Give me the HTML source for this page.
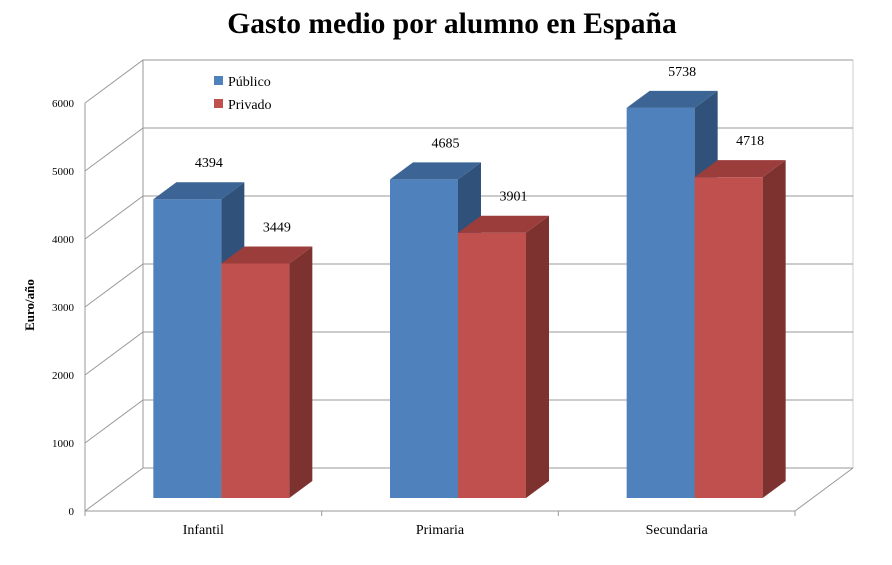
<!DOCTYPE html>
<html><head><meta charset="utf-8"><style>
body{margin:0;background:#fff}
svg text{font-family:"Liberation Serif",serif}
</style></head><body>
<svg id="chart" width="892" height="560" xmlns="http://www.w3.org/2000/svg">
<text x="452" y="33" text-anchor="middle" font-size="29.5" font-weight="bold">Gasto medio por alumno en España</text>
<text transform="translate(34,305) rotate(-90)" text-anchor="middle" font-size="13" font-weight="bold">Euro/año</text>
<g id="grid"></g><g id="bars"></g>
<g>
<rect x="214" y="76" width="9" height="9" fill="#4f81bd"/>
<text x="228" y="86" font-size="14">Público</text>
<rect x="214" y="99" width="9" height="9" fill="#c0504d"/>
<text x="228" y="109" font-size="14">Privado</text>
</g>
</svg>
<script>
const categories=["Infantil","Primaria","Secundaria"];
const publico=[4394,4685,5738];
const privado=[3449,3901,4718];
const yTicks=[0,1000,2000,3000,4000,5000,6000];
const NS="http://www.w3.org/2000/svg";
const svg=document.getElementById('chart'),grid=document.getElementById('grid'),bars=document.getElementById('bars');
const X0=85,X1=795,Y0=511,PX=0.068,DX=58,DY=-43;
const yF=v=>Y0-v*PX;
function el(t,a,p){const e=document.createElementNS(NS,t);for(const k in a)e.setAttribute(k,a[k]);p.appendChild(e);return e;}
el('line',{x1:X0,y1:yF(6000),x2:X0,y2:Y0+4,stroke:'#999'},grid);
el('line',{x1:X0+DX,y1:yF(6000)+DY,x2:X0+DX,y2:Y0+DY,stroke:'#999'},grid);
el('line',{x1:X1+DX,y1:yF(6000)+DY,x2:X1+DX,y2:Y0+DY,stroke:'#ccc'},grid);
el('line',{x1:X0,y1:Y0,x2:X1,y2:Y0,stroke:'#999'},grid);
el('line',{x1:X1,y1:Y0,x2:X1+DX,y2:Y0+DY,stroke:'#999'},grid);
yTicks.forEach(v=>{const y=yF(v);
 const l=el('polyline',{points:`${X0},${y} ${X0+DX},${y+DY} ${X1+DX},${y+DY}`,fill:'none',stroke:'#999'},grid);
 
 const t=el('text',{x:X0-11,y:y+4,'text-anchor':'end','font-size':'11'},grid);t.textContent=v;
 
});
const cw=(X1-X0)/categories.length;
for(let i=0;i<=categories.length;i++){el('line',{x1:X0+i*cw,y1:Y0,x2:X0+i*cw,y2:Y0+5,stroke:'#999'},grid);}
const BW=68,BDX=23,BDY=-17,BB=498;
function bar(x,v,c,side,top,name){
 const yt=BB-v*PX;const g=el('g',{},bars);
 
 el('rect',{x:x,y:yt,width:BW,height:BB-yt,fill:c},g);
 el('polygon',{points:`${x+BW},${yt} ${x+BW+BDX},${yt+BDY} ${x+BW+BDX},${BB+BDY} ${x+BW},${BB}`,fill:side},g);
 el('polygon',{points:`${x},${yt} ${x+BDX},${yt+BDY} ${x+BW+BDX},${yt+BDY} ${x+BW},${yt}`,fill:top},g);
 const t=el('text',{x:x+BW/2+BDX/2+10,y:yt-32,'text-anchor':'middle','font-size':'14'},g);t.textContent=v;
 
}
categories.forEach((c,i)=>{
 const cx=X0+cw*(i+0.5)+18;
 bar(cx-BW,publico[i],'#4f81bd','#30527a','#3c6494','bar-publico-'+c.toLowerCase());
 bar(cx,privado[i],'#c0504d','#7d3230','#9a3d3b','bar-privado-'+c.toLowerCase());
 const t=el('text',{x:X0+cw*(i+0.5),y:534,'text-anchor':'middle','font-size':'14'},grid);t.textContent=c;
 
});
</script>
</body></html>
